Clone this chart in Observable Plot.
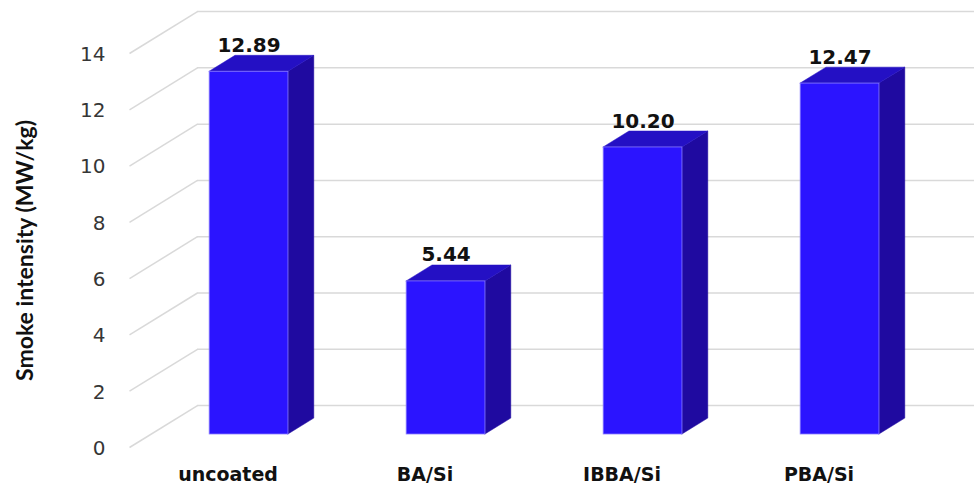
<!DOCTYPE html>
<html>
<head>
<meta charset="utf-8">
<script src="https://cdn.jsdelivr.net/npm/d3@7"></script>
<script src="https://cdn.jsdelivr.net/npm/@observablehq/plot@0.6"></script>
<style>
  html, body { margin: 0; padding: 0; background: #ffffff; }
  #chart svg { display: block; }
</style>
</head>
<body>
<div id="chart"></div>
<script>
// Smoke intensity per coating
const categories = ["uncoated", "BA/Si", "IBBA/Si", "PBA/Si"];
const values = [12.89, 5.44, 10.20, 12.47];
const yTicks = [0, 2, 4, 6, 8, 10, 12, 14];
const yTitle = "Smoke intensity (MW/kg)";

// 3-D projection of the plot box, in data units
const DX = 0.345;   // full floor depth along x (category units)
const DY = 1.49;    // full floor depth along y (value units)
const F0 = 0.31;    // bar front, as a fraction of the depth
const F1 = 0.69;    // bar back
const BAR = 0.4;    // bar width (category units)

const rows = categories.map((c, i) => ({ c, i, v: values[i] }));

const frontFaces = rows.map(d => ({
  ...d,
  x1: d.i + 0.5 - BAR / 2 + F0 * DX,
  x2: d.i + 0.5 + BAR / 2 + F0 * DX,
  y1: F0 * DY,
  y2: d.v + F0 * DY
}));

const deep = (F1 - F0);
const sideFaces = frontFaces.flatMap(d => [
  { c: d.c, x: d.x2, y1: d.y1, y2: d.y2 },
  { c: d.c, x: d.x2 + deep * DX, y1: d.y1 + deep * DY, y2: d.y2 + deep * DY }
]);
const topFaces = frontFaces.flatMap(d => [
  { c: d.c, y: d.y2, x1: d.x1, x2: d.x2 },
  { c: d.c, y: d.y2 + deep * DY, x1: d.x1 + deep * DX, x2: d.x2 + deep * DX }
]);

const grid = "#d9d9d9";
const chart = Plot.plot({
  width: 974,
  height: 486,
  marginLeft: 129,
  marginRight: 57,
  marginTop: 53,
  marginBottom: 39,
  style: { fontFamily: "Lato, sans-serif", background: "#ffffff" },
  x: { domain: [0, 4] },
  y: { domain: [0, 14] },
  marks: [
    // back wall gridlines
    Plot.ruleY(yTicks, { y: d => d + DY, x1: DX, x2: 4.45, stroke: grid, strokeWidth: 1.5 }),
    // floor / side diagonals
    Plot.link(yTicks, { x1: 0, y1: d => d, x2: DX, y2: d => d + DY, stroke: grid, strokeWidth: 1.5 }),
    // bars: side, top, front faces
    Plot.areaY(sideFaces, { x: "x", y1: "y1", y2: "y2", z: "c", fill: "#1f0aa0", stroke: "#1f0aa0", strokeWidth: 0.5 }),
    Plot.areaX(topFaces, { y: "y", x1: "x1", x2: "x2", z: "c", fill: "#2410c4", stroke: "#2410c4", strokeWidth: 0.5 }),
    Plot.rect(frontFaces, { x1: "x1", x2: "x2", y1: "y1", y2: "y2", fill: "#2b14ff", stroke: "#8a7cff", strokeWidth: 0.8 }),
    // value labels
    Plot.text(rows, {
      x: d => d.i + 0.5 + F0 * DX,
      y: d => d.v + F1 * DY,
      text: d => d.v.toFixed(2),
      dy: -4,
      lineAnchor: "bottom",
      fontFamily: "DejaVu Sans, sans-serif",
      fontWeight: "bold",
      fontSize: 20,
      fill: "#111111"
    }),
    // axes
    Plot.axisY(yTicks, {
      tickSize: 0,
      tickPadding: 24,
      dy: 1,
      fontFamily: "DejaVu Sans, sans-serif",
      fontSize: 20,
      fill: "#363636",
      label: null
    }),
    Plot.axisX(rows.map(d => d.i + 0.5), {
      tickSize: 0,
      tickPadding: 20,
      tickFormat: t => categories[Math.round(t - 0.5)],
      fontFamily: "DejaVu Sans, sans-serif",
      fontWeight: "bold",
      fontSize: 19,
      fill: "#111111",
      label: null
    }),
    // y title
    Plot.text([yTitle], {
      frameAnchor: "left",
      textAnchor: "middle",
      rotate: -90,
      dx: -104,
      fontWeight: "bold",
      fontSize: 23,
      fill: "#111111"
    })
  ]
});
document.getElementById("chart").append(chart);
</script>
</body>
</html>
